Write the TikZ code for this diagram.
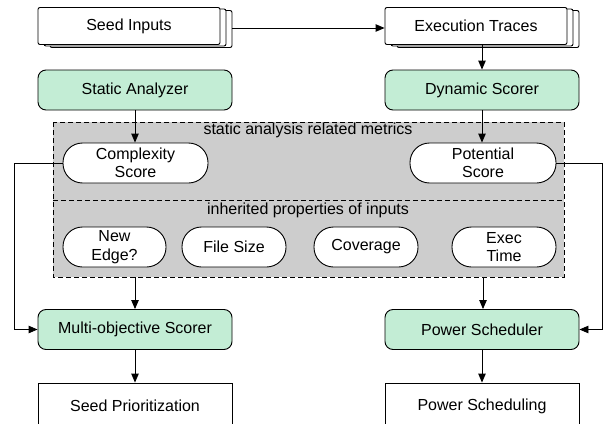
\documentclass[tikz,border=0pt]{standalone}
\usepackage{fontspec}
\setmainfont{Liberation Sans}
\usetikzlibrary{arrows.meta}
\definecolor{mintfill}{RGB}{195,237,213}
\definecolor{panelgray}{RGB}{205,205,205}
\tikzset{
  every node/.style={font=\fontsize{16}{18.5}\selectfont, inner sep=0pt},
  base/.style={draw=black, line width=0.9pt},
  docpage/.style={base, fill=white, rounded corners=2pt, minimum width=182pt, minimum height=37pt},
  greenbox/.style={base, fill=mintfill, rounded corners=8pt, minimum width=194pt, minimum height=40pt},
  plainbox/.style={base, fill=white, minimum width=194pt, minimum height=46pt},
  pill/.style={base, fill=white, rounded corners=19.5pt, minimum height=40pt, align=center},
  panel/.style={draw=black, line width=0.9pt, dash pattern=on 5pt off 3pt, fill=panelgray},
  flow/.style={line width=0.9pt, -{Triangle[length=9pt,width=7.5pt]}},
}
\begin{document}
\begin{tikzpicture}[x=1pt,y=-1pt]
\useasboundingbox (0,0) rectangle (610,423);

% metric panel with its two sections
\draw[panel] (53,122) rectangle (564,277);
\draw[draw=black, line width=0.9pt, dash pattern=on 5pt off 3pt] (53,200) -- (564,200);
\node (lblstatic) at (308,130) {static analysis related metrics};
\node (lblinherit) at (308,210) {inherited properties of inputs};

% stacked document: seed inputs
\node[docpage] at (141,29) {};
\node[docpage] at (135,27.5) {};
\node[docpage] (seeds) at (129,26) {Seed Inputs};
\coordinate (seedsout) at (232,28);

% stacked document: execution traces
\node[docpage] at (488,29) {};
\node[docpage] at (482,27.5) {};
\node[docpage] (traces) at (476,26) {Execution Traces};

% analysers
\node[greenbox] (static) at (135,90) {Static Analyzer};
\node[greenbox] (dynamic) at (482,90) {Dynamic Scorer};

% scores
\node[pill, minimum width=145pt] (complex) at (135.5,163) {Complexity\\Score};
\node[pill, minimum width=146pt] (potential) at (483,163) {Potential\\Score};

% inherited properties
\node[pill, minimum width=103pt] (newedge) at (114.5,247) {New\\Edge?};
\node[pill, minimum width=104pt] (filesize) at (234,247) {File Size};
\node[pill, minimum width=104pt] (coverage) at (366,247) {Coverage};
\node[pill, minimum width=104pt] (exectime) at (504,247) {Exec\\Time};

% schedulers and results
\node[greenbox] (multi) at (135,329.5) {Multi-objective Scorer};
\node[greenbox] (power) at (482,329.5) {Power Scheduler};
\node[plainbox] (prio) at (135,406) {Seed Prioritization};
\node[plainbox] (sched) at (482,406) {Power Scheduling};

% panel exits
\coordinate (panelL) at (135,277);
\coordinate (panelR) at (483,277);

% connectors
\draw[flow] (seedsout) -- (traces.west |- seedsout);
\draw[flow] (traces.south -| dynamic) -- (dynamic.north);
\draw[flow] (static.south) -- (complex.north -| static);
\draw[flow] (dynamic.south) -- (potential.north -| dynamic);
\draw[flow] (panelL) -- (multi.north -| panelL);
\draw[flow] (panelR) -- (power.north -| panelR);
\draw[flow] (complex.west) -- ++(-48,0) |- (multi.west);
\draw[flow] (potential.east) -- (602,163) |- (power.east);
\draw[flow] (multi.south) -- (prio.north);
\draw[flow] (power.south) -- (sched.north);
\end{tikzpicture}
\end{document}
